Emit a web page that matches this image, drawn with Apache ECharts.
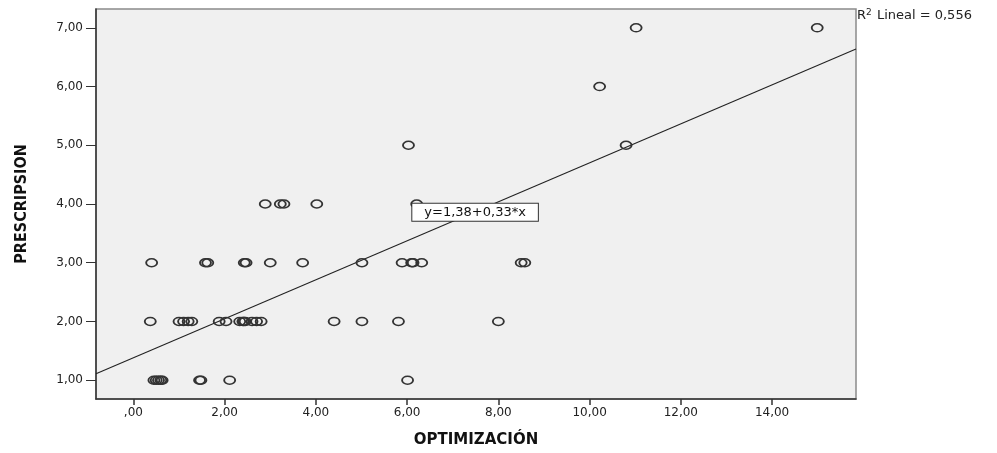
<!DOCTYPE html>
<html>
<head>
<meta charset="utf-8">
<script src="https://cdn.jsdelivr.net/npm/echarts@6/dist/echarts.min.js"></script>
<style>html,body{margin:0;padding:0;background:#fff;}#c{width:997px;height:453px;}</style>
</head>
<body>
<div id="c"></div>
<script>
// Data (OPTIMIZACIÓN, PRESCRIPSION)
const optimX1 = [0.45, 0.5, 0.55, 0.6, 0.63, 1.45, 1.48, 2.11, 6.01];
const optimX2 = [0.37, 1.0, 1.1, 1.2, 1.28, 1.88, 2.03, 2.33, 2.4, 2.42, 2.45, 2.6, 2.7, 2.8, 4.4, 5.01, 5.81, 8.0];
const optimX3 = [0.4, 1.58, 1.63, 2.43, 2.47, 3.0, 3.71, 5.01, 5.89, 6.1, 6.13, 6.32, 8.5, 8.58];
const optimX4 = [2.89, 3.22, 3.3, 4.02, 6.21];
const optimX5 = [6.03, 10.8];
const optimX6 = [10.22];
const optimX7 = [11.02, 14.99];
const prescLevels = [1, 2, 3, 4, 5, 6, 7];
const xTicks = [0, 2, 4, 6, 8, 10, 12, 14];
const yTicks = [1, 2, 3, 4, 5, 6, 7];
const fitLine = [[-0.82, 1.11], [15.84, 6.64]];
const fitLabel = 'y=1,38+0,33*x';
const fitLabelPos = [7.49, 3.86];
const r2Text = '0,556';

const groups = [optimX1, optimX2, optimX3, optimX4, optimX5, optimX6, optimX7];
const points = [];
groups.forEach((arr, i) => arr.forEach(x => points.push([x, prescLevels[i]])));

function fmt(v) {
  let s = v.toFixed(2).replace('.', ',');
  if (s.startsWith('0,')) s = s.slice(1);
  return s;
}

const chart = echarts.init(document.getElementById('c'));
chart.setOption({
  animation: false,
  backgroundColor: '#ffffff',
  grid: {
    left: 96, right: 141, top: 9, bottom: 49,
    show: true, backgroundColor: '#f0f0f0', borderColor: '#8a8a8a', borderWidth: 1.5
  },
  xAxis: {
    type: 'value', min: -0.82, max: 15.84,
    name: 'OPTIMIZACIÓN', nameLocation: 'middle', nameGap: 34,
    nameTextStyle: { fontFamily: 'DejaVu Sans', fontWeight: 'bold', fontSize: 15, color: '#111' },
    axisLine: { show: true, onZero: false, lineStyle: { color: '#333', width: 1.5 } },
    axisTick: { show: true, length: 6, customValues: xTicks, lineStyle: { color: '#333', width: 1.5 } },
    axisLabel: { customValues: xTicks, formatter: fmt, margin: 8, fontFamily: 'DejaVu Sans', fontSize: 12, color: '#222' },
    splitLine: { show: false }
  },
  yAxis: {
    type: 'value', min: 0.68, max: 7.32,
    name: 'PRESCRIPSION', nameLocation: 'middle', nameGap: 66, nameRotate: 90,
    nameTextStyle: { fontFamily: "'Liberation Sans Narrow', 'DejaVu Sans Condensed', 'Roboto Condensed', 'Liberation Sans', sans-serif", fontWeight: 'bold', fontSize: 16, color: '#111' },
    axisLine: { show: true, onZero: false, lineStyle: { color: '#333', width: 1.5 } },
    axisTick: { show: true, length: 10, customValues: yTicks, lineStyle: { color: '#333', width: 1 } },
    axisLabel: { customValues: yTicks, formatter: fmt, margin: 13, fontFamily: 'DejaVu Sans', fontSize: 12, color: '#222' },
    splitLine: { show: false }
  },
  series: [
    {
      type: 'line', data: fitLine, symbol: 'none', silent: true,
      lineStyle: { color: '#222', width: 1.1 },
      z: 2,
      markPoint: {
        symbol: 'rect', symbolSize: 1,
        itemStyle: { color: 'rgba(0,0,0,0)' },
        data: [{ coord: fitLabelPos, value: fitLabel }],
        label: {
          show: true, position: 'inside', formatter: fitLabel,
          fontFamily: 'DejaVu Sans', fontSize: 13, color: '#111',
          backgroundColor: '#ffffff', borderColor: '#333', borderWidth: 1,
          padding: [2, 12]
        },
        z: 10
      }
    },
    {
      type: 'scatter', data: points, symbol: 'circle', symbolSize: [11, 8],
      itemStyle: { color: 'rgba(0,0,0,0)', borderColor: '#333', borderWidth: 1.6, opacity: 1 },
      z: 3
    }
  ],
  graphic: [
    {
      type: 'text', left: 857, top: 8,
      style: {
        text: 'R{sup|2} Lineal = ' + r2Text,
        fontFamily: 'DejaVu Sans', fontSize: 13, fill: '#222',
        rich: { sup: { fontSize: 9, verticalAlign: 'top', padding: [0, 1, 6, 0], fontFamily: 'DejaVu Sans', fill: '#222' } }
      }
    }
  ]
});
</script>
</body>
</html>
